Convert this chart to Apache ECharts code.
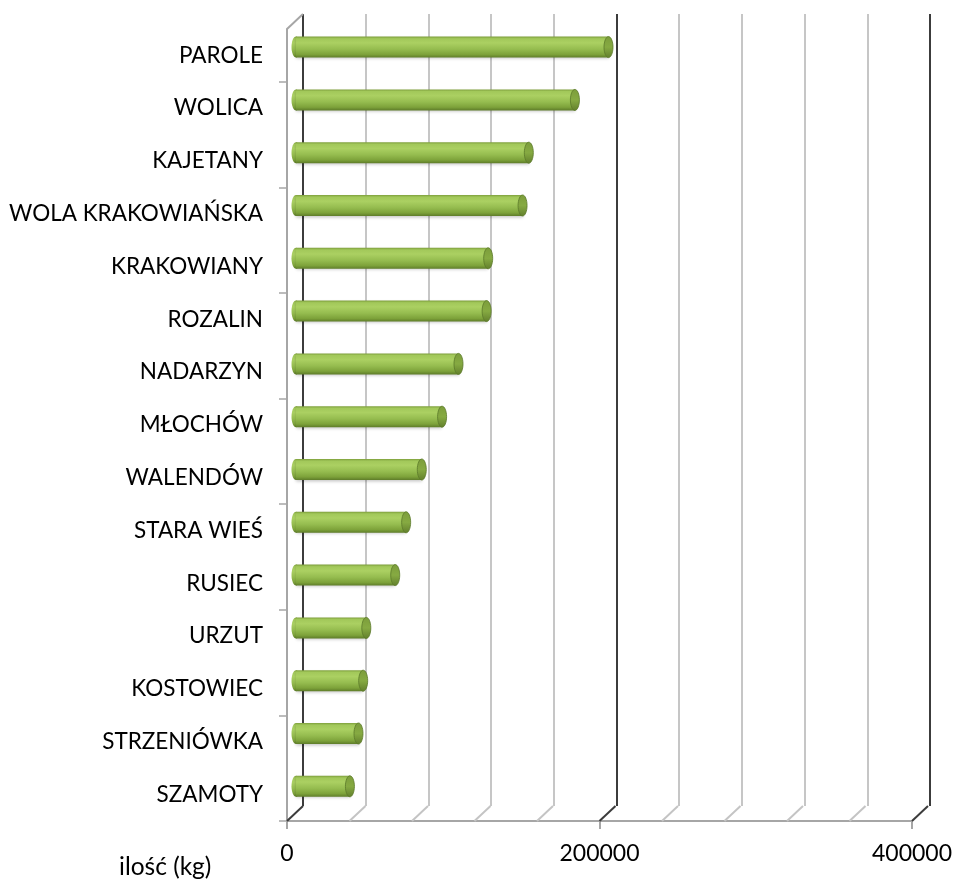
<!DOCTYPE html>
<html>
<head>
<meta charset="utf-8">
<script src="https://cdn.jsdelivr.net/npm/echarts@6/dist/echarts.min.js"></script>
<style>
html,body{margin:0;padding:0;background:#fff;}
#chart{width:954px;height:884px;}
</style>
</head>
<body>
<div id="chart"></div>
<script>
const categories = ['PAROLE','WOLICA','KAJETANY','WOLA KRAKOWIAŃSKA','KRAKOWIANY','ROZALIN','NADARZYN','MŁOCHÓW','WALENDÓW','STARA WIEŚ','RUSIEC','URZUT','KOSTOWIEC','STRZENIÓWKA','SZAMOTY'];
const values = [200000, 178500, 149000, 145000, 123000, 122000, 104000, 93500, 80500, 70500, 63500, 45000, 43000, 40000, 34500];
const axisMax = 400000;
const labelTicks = [0, 200000, 400000];
const floorTicks = [0, 40000, 80000, 120000, 160000, 200000, 240000, 280000, 320000, 360000, 400000];
const axisTitle = 'ilość (kg)';

const FONT = 'Lato';
const DX = 16, DY = 15;

const chart = echarts.init(document.getElementById('chart'), null, {renderer: 'canvas'});

const barGrad = {
  type: 'linear', x: 0, y: 0, x2: 0, y2: 1,
  colorStops: [
    {offset: 0, color: '#7e9f3c'},
    {offset: 0.1, color: '#a2c85a'},
    {offset: 0.3, color: '#abd062'},
    {offset: 0.6, color: '#95bc4f'},
    {offset: 0.85, color: '#7da23a'},
    {offset: 1, color: '#5e7c29'}
  ]
};
const capGrad = {
  type: 'linear', x: 0, y: 0, x2: 0, y2: 1,
  colorStops: [
    {offset: 0, color: '#7c9d3b'},
    {offset: 0.5, color: '#86aa42'},
    {offset: 1, color: '#627f2c'}
  ]
};

function renderBar(params, api) {
  const idx = api.value(1);
  const v = api.value(0);
  const p0 = api.coord([0, idx]);
  const p1 = api.coord([v, idx]);
  const dx = 9, dy = -8.3, h = 21, rx = 4.5;
  const x0 = p0[0] + dx, x1 = p1[0] + dx, cy = p0[1] + dy;
  return {
    type: 'group',
    children: [
      {type: 'ellipse', shape: {cx: x0, cy: cy, rx: rx, ry: h / 2}, style: {fill: barGrad}},
      {type: 'rect', shape: {x: x0, y: cy - h / 2, width: x1 - x0, height: h},
        style: {fill: barGrad, shadowBlur: 3, shadowColor: 'rgba(0,0,0,0.22)', shadowOffsetY: 1.5}},
      {type: 'ellipse', shape: {cx: x1, cy: cy, rx: rx, ry: h / 2},
        style: {fill: capGrad, stroke: '#5a7829', lineWidth: 0.8}}
    ]
  };
}

function renderFloor(params, api) {
  const v = api.value(0);
  const cs = params.coordSys;
  const x = api.coord([v, 0])[0];
  const yb = cs.y + cs.height;
  const dark = (v % 200000 === 0);
  const color = dark ? '#3c3c3c' : '#c4c4c4';
  const children = [
    {type: 'line', shape: {x1: x, y1: yb, x2: x + DX, y2: yb - DY},
      style: {stroke: color, lineWidth: 2}}
  ];
  if (v === 0) {
    children.push({type: 'line', shape: {x1: x, y1: cs.y, x2: x + DX, y2: cs.y - DY},
      style: {stroke: '#a6a6a6', lineWidth: 2}});
  }
  return {type: 'group', children: children};
}

const option = {
  backgroundColor: '#ffffff',
  animation: false,
  title: {
    text: axisTitle, left: 114, top: 850,
    textStyle: {fontFamily: FONT, fontSize: 24.5, fontWeight: 'normal', color: '#000'}
  },
  grid: [
    {left: 287, top: 29, width: 625, height: 792, containLabel: false, outerBoundsMode: 'none'},
    {left: 303, top: 14, width: 627, height: 792, containLabel: false, outerBoundsMode: 'none'}
  ],
  xAxis: [
    {
      type: 'value', gridIndex: 0, min: 0, max: axisMax, interval: 200000,
      axisLine: {show: true, lineStyle: {color: '#a6a6a6', width: 2}},
      axisTick: {show: true, length: 8, lineStyle: {color: '#a6a6a6', width: 2}},
      axisLabel: {
        margin: 21, fontFamily: FONT, fontSize: 23, color: '#000',
        formatter: function (v) { return labelTicks.indexOf(v) >= 0 ? String(v) : ''; }
      },
      splitLine: {show: false}
    },
    {
      type: 'value', gridIndex: 1, min: 0, max: axisMax, interval: 40000,
      axisLine: {show: false}, axisTick: {show: false}, axisLabel: {show: false},
      splitLine: {show: true, lineStyle: {color: ['#3c3c3c', '#c6c6c6', '#c6c6c6', '#c6c6c6', '#c6c6c6'], width: 2}}
    }
  ],
  yAxis: [
    {
      type: 'category', gridIndex: 0, data: categories, inverse: true,
      axisLine: {show: true, lineStyle: {color: '#a6a6a6', width: 2}},
      axisTick: {show: true, length: 8, interval: function (i) { return i % 2 === 1; }, lineStyle: {color: '#a6a6a6', width: 1.5}},
      axisLabel: {margin: 24, fontFamily: FONT, fontSize: 22.5, color: '#000', lineHeight: 22, padding: [4, 0, 0, 0]},
      splitLine: {show: false}
    },
    {
      type: 'category', gridIndex: 1, data: categories, inverse: true, show: false
    }
  ],
  series: [
    {
      type: 'custom', xAxisIndex: 0, yAxisIndex: 0, z: 1,
      renderItem: renderFloor,
      data: floorTicks.map(function (v) { return [v, 0]; }),
      silent: true
    },
    {
      type: 'custom', xAxisIndex: 0, yAxisIndex: 0, z: 3,
      renderItem: renderBar,
      encode: {x: 0, y: 1},
      data: values.map(function (v, i) { return [v, i]; })
    }
  ]
};
chart.setOption(option);
</script>
</body>
</html>
